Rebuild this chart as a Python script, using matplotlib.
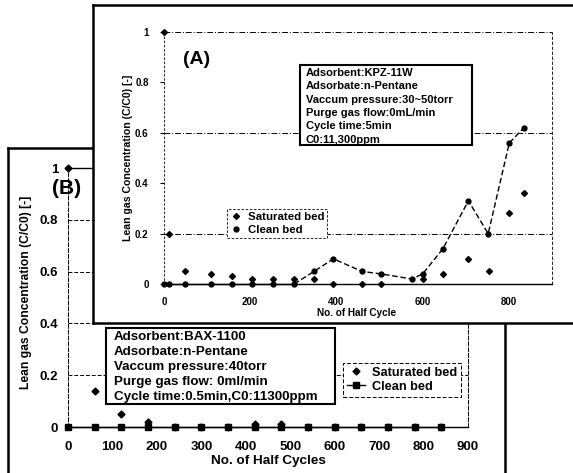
import matplotlib
matplotlib.use('Agg')
import matplotlib.pyplot as plt
from matplotlib.patches import Rectangle
from matplotlib.lines import Line2D

plt.rcParams['font.family'] = ['Liberation Sans', 'DejaVu Sans']
plt.rcParams['font.weight'] = 'bold'

# ---------------- data ----------------
# Panel (A)  KPZ-11W
a_sat_x = [0, 12, 49, 109, 157, 205, 252, 302, 348, 393, 459, 503, 600, 647, 706, 754, 801, 835]
a_sat_y = [1.0, 0.2, 0.05, 0.04, 0.03, 0.02, 0.02, 0.02, 0.02, 0.0, 0.0, 0.0, 0.02, 0.04, 0.1, 0.05, 0.28, 0.36]
a_clean_x = [0, 12, 49, 109, 157, 205, 252, 302, 348, 393, 459, 503, 575, 600, 647, 706, 752, 801, 835]
a_clean_y = [0, 0, 0, 0, 0, 0, 0, 0, 0.05, 0.1, 0.05, 0.04, 0.02, 0.04, 0.14, 0.33, 0.2, 0.56, 0.62]

# Panel (B)  BAX-1100
b_x = [0, 60, 120, 180, 240, 300, 360, 420, 480, 540, 600, 660, 720, 780, 840]
b_sat_y = [1.0, 0.14, 0.05, 0.02, 0, 0, 0, 0.01, 0.01, 0, 0, 0, 0, 0, 0]
b_clean_y = [0, 0, 0, 0, 0, 0, 0, 0, 0, 0, 0, 0, 0, 0, 0]

a_xticks = [0, 200, 400, 600, 800]
b_xticks = [0, 100, 200, 300, 400, 500, 600, 700, 800, 900]
yticks = [0, 0.2, 0.4, 0.6, 0.8, 1.0]
ytick_labels = ['0', '0.2', '0.4', '0.6', '0.8', '1']

a_info = ['Adsorbent:KPZ-11W', 'Adsorbate:n-Pentane', 'Vaccum pressure:30~50torr',
          'Purge gas flow:0mL/min', 'Cycle time:5min', 'C0:11,300ppm']
b_info = ['Adsorbent:BAX-1100', 'Adsorbate:n-Pentane', 'Vaccum pressure:40torr',
          'Purge gas flow: 0ml/min', 'Cycle time:0.5min,C0:11300ppm']
ylab = 'Lean gas Concentration (C/C0) [-]'

# ---------------- layout helpers ----------------
W, H = 573, 473
fig = plt.figure(figsize=(W / 100, H / 100), dpi=100)
def fx(px): return px / W
def fy(py): return 1 - py / H

def frame(l, t, r, b):
    f = fig.add_axes([fx(l), fy(b), fx(r) - fx(l), fy(t) - fy(b)])
    f.set_xticks([]); f.set_yticks([])
    f.set_facecolor('white')
    for s in f.spines.values():
        s.set_linewidth(1.8); s.set_color('black')
    return f

# ================= Panel B (background) =================
frame(8, 148, 505, 500)
axB = fig.add_axes([fx(68), fy(427), fx(468) - fx(68), fy(168) - fy(427)])
axB.patch.set_alpha(0)
axB.set_xlim(0, 900); axB.set_ylim(0, 1)
axB.plot(b_x, b_clean_y, '-', color='k', lw=1.0, marker='s', ms=4.5, clip_on=False, zorder=3)
axB.plot(b_x, b_sat_y, ls='none', color='k', marker='D', ms=3.5, clip_on=False, zorder=4)
axB.set_xticks(b_xticks)
axB.set_yticks(yticks)
axB.set_yticklabels(ytick_labels)
axB.tick_params(length=0, labelsize=9.5, pad=7)
axB.tick_params(axis='x', pad=10)
axB.yaxis.grid(True, ls=(0, (4, 2)), color='k', lw=0.7)
axB.spines['left'].set_linestyle((0, (4, 2))); axB.spines['left'].set_linewidth(0.7)
axB.spines['right'].set_linestyle((0, (4, 2))); axB.spines['right'].set_linewidth(0.7)
axB.spines['top'].set_linewidth(1.0)
axB.spines['bottom'].set_linewidth(1.0)
axB.set_xlabel('No. of Half Cycles', fontsize=9.7, fontweight='bold')
axB.xaxis.set_label_coords(0.5, -0.11)
axB.set_ylabel(ylab, fontsize=8.7, fontweight='bold')
axB.yaxis.set_label_coords(-0.09, 0.52)

rb = Rectangle((fx(106), fy(404)), fx(335) - fx(106), fy(328) - fy(404),
               transform=fig.transFigure, facecolor='white', edgecolor='k', lw=1.5,
               clip_on=False, zorder=5)
axB.add_artist(rb)
for i, t in enumerate(b_info):
    axB.text(fx(114), fy(336.7 + 15 * i), t, transform=fig.transFigure, va='center',
             ha='left', fontsize=9.6, fontweight='bold', zorder=6)

hB = [Line2D([], [], ls='none', marker='D', color='k', ms=3.5),
      Line2D([], [], ls='-', marker='s', color='k', ms=4.5, lw=1.0)]
legB = axB.legend(hB, ['Saturated bed', 'Clean bed'], loc='upper left',
                  bbox_to_anchor=(fx(343), fy(363)), bbox_transform=fig.transFigure,
                  borderaxespad=0, fancybox=False, framealpha=1, edgecolor='k',
                  prop={'size': 9.2, 'weight': 'bold'}, handlelength=1.4,
                  handletextpad=0.6, labelspacing=0.15, borderpad=0.3)
legB.get_frame().set_linestyle((0, (4, 2)))
legB.get_frame().set_linewidth(0.7)
legB.set_zorder(7)
fig.text(fx(67), fy(188), '(B)', fontsize=15, fontweight='bold', ha='center', va='center')

# ================= Panel A (inset on top) =================
frame(93, 5, 700, 323)
axA = fig.add_axes([fx(164), fy(284), fx(552) - fx(164), fy(32) - fy(284)])
axA.patch.set_alpha(0)
axA.set_xlim(0, 900); axA.set_ylim(0, 1)
axA.plot(a_clean_x[:8], a_clean_y[:8], '-', color='k', lw=1.0, clip_on=False, zorder=3)
axA.plot(a_clean_x[7:], a_clean_y[7:], ls=(0, (4, 2)), color='k', lw=1.0, clip_on=False, zorder=3)
axA.plot(a_clean_x, a_clean_y, ls='none', color='k', marker='o', ms=3.5, clip_on=False, zorder=4)
axA.plot(a_sat_x, a_sat_y, ls='none', color='k', marker='D', ms=3, clip_on=False, zorder=4)
axA.set_xticks(a_xticks)
axA.set_yticks(yticks)
axA.set_yticklabels(ytick_labels)
axA.tick_params(axis='x', length=0, labelsize=7, pad=9)
axA.tick_params(axis='y', length=3, width=0.8, labelsize=7, pad=8)
axA.yaxis.grid(True, ls=(0, (6, 2, 1, 2)), color='k', lw=0.7)
for val, g in zip(yticks, axA.get_ygridlines()):
    if val in (0.4, 0.8, 0):
        g.set_visible(False)
axA.spines['top'].set_visible(False)
axA.spines['left'].set_linestyle((0, (2, 3))); axA.spines['left'].set_linewidth(0.6)
axA.spines['right'].set_linestyle((0, (3, 3))); axA.spines['right'].set_linewidth(0.6)
axA.spines['bottom'].set_linewidth(1.0)
axA.set_xlabel('No. of Half Cycle', fontsize=7.2, fontweight='bold')
axA.xaxis.set_label_coords(0.497, -0.095)
axA.set_ylabel(ylab, fontsize=7.6, fontweight='bold')
axA.yaxis.set_label_coords(-0.08, 0.5)

ra = Rectangle((fx(300), fy(145)), fx(472) - fx(300), fy(65) - fy(145),
               transform=fig.transFigure, facecolor='white', edgecolor='k', lw=1.5,
               clip_on=False, zorder=5)
axA.add_artist(ra)
for i, t in enumerate(a_info):
    axA.text(fx(306), fy(72.7 + 13.4 * i), t, transform=fig.transFigure, va='center',
             ha='left', fontsize=8.0, fontweight='bold', zorder=6)

hA = [Line2D([], [], ls='none', marker='D', color='k', ms=3),
      Line2D([], [], ls='none', marker='o', color='k', ms=3.5)]
legA = axA.legend(hA, ['Saturated bed', 'Clean bed'], loc='upper left',
                  bbox_to_anchor=(fx(227), fy(209)), bbox_transform=fig.transFigure,
                  borderaxespad=0, fancybox=False, framealpha=1, edgecolor='k',
                  prop={'size': 8.2, 'weight': 'bold'}, handlelength=1.0,
                  handletextpad=0.5, labelspacing=0.2, borderpad=0.3)
legA.get_frame().set_linestyle((0, (3, 2)))
legA.get_frame().set_linewidth(0.6)
legA.set_zorder(7)
fig.text(fx(197), fy(60), '(A)', fontsize=14, fontweight='bold', ha='center', va='center')

fig.savefig('out.png', dpi=100)
